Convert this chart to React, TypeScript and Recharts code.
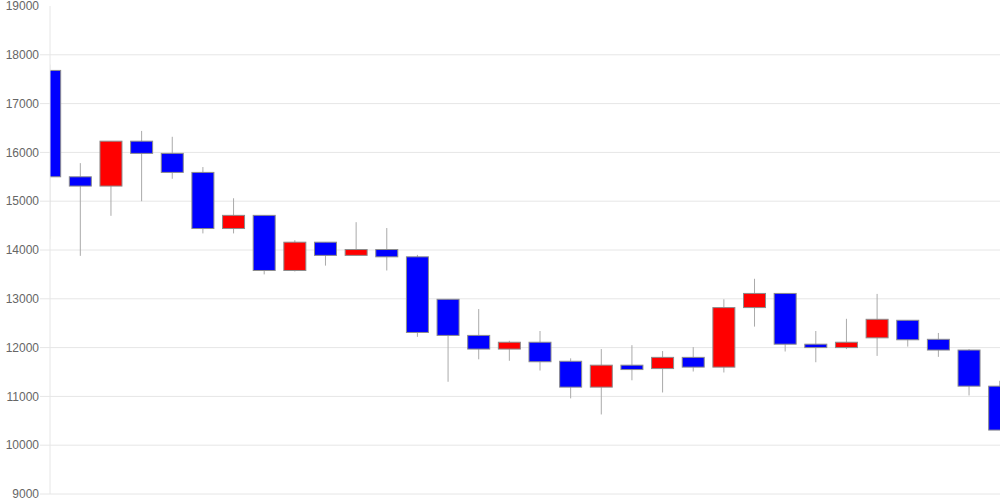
import React from 'react';
import { ComposedChart, Bar, XAxis, YAxis, CartesianGrid } from 'recharts';

// daily OHLC values
const opens = [17680, 15500, 15310, 16230, 15980, 15590, 14440, 14710, 13580, 14160, 13890, 14010, 13860, 12990, 12250, 11970, 12110, 11720, 11190, 11640, 11570, 11800, 11600, 12820, 13110, 12070, 12000, 12200, 12560, 12170, 11950, 11210];
const closes = [15500, 15310, 16230, 15980, 15590, 14440, 14710, 13580, 14160, 13890, 14010, 13860, 12310, 12250, 11970, 12110, 11710, 11190, 11640, 11550, 11800, 11600, 12820, 13110, 12070, 12000, 12110, 12580, 12160, 11950, 11210, 10310];
const highs = [17800, 15780, 16230, 16440, 16320, 15700, 15060, 14710, 14200, 14160, 14570, 14450, 13900, 12990, 12790, 12140, 12340, 11780, 11970, 12050, 11930, 12010, 12990, 13410, 13110, 12340, 12590, 13100, 12560, 12300, 11970, 11320];
const lows = [14220, 13880, 14700, 15000, 15460, 14340, 14340, 13500, 13560, 13680, 13890, 13580, 12220, 11300, 11760, 11730, 11530, 10960, 10630, 11330, 11080, 11510, 11490, 12430, 11920, 11700, 11970, 11830, 12020, 11810, 11020, 10310];

const yTicks = [9000, 10000, 11000, 12000, 13000, 14000, 15000, 16000, 17000, 18000, 19000];
const gridValues = yTicks.filter((v) => v < 19000);

const data = opens.map((open, i) => ({
  idx: i,
  open,
  close: closes[i],
  high: highs[i],
  low: lows[i],
}));

const GRID = '#e6e6e6';

const Candle = (props: any) => {
  const { x, y, width, height, payload } = props;
  const { open, close, high, low } = payload;
  // map a price into the bar's pixel span (bar spans low..high)
  const yOf = (v: number) => y + ((high - v) / (high - low)) * height;
  const cx = x + width / 2;
  const top = yOf(Math.max(open, close));
  const bottom = yOf(Math.min(open, close));
  const fill = close >= open ? '#ff0000' : '#0000ff';
  return (
    <g>
      <line x1={cx} x2={cx} y1={y} y2={y + height} stroke="#aaaaaa" strokeWidth={1} />
      <rect x={x} y={top} width={width} height={Math.max(bottom - top, 1)} fill={fill} stroke="#8c8c8c" strokeWidth={1} />
    </g>
  );
};

const YTick = (props: any) => {
  const { x, y, payload } = props;
  return (
    <g>
      {payload.value < 19000 && <line x1={x + 1} x2={x + 11} y1={y} y2={y} stroke={GRID} />}
      <text x={x} y={y} dy="0.355em" textAnchor="end" fill="#666" fontSize={12} fontFamily="'Liberation Sans', Arial, sans-serif">
        {payload.value}
      </text>
    </g>
  );
};

const App: React.FC = () => {
  return (
    <div style={{ position: 'absolute', left: 0, top: 0, background: '#fff' }}>
      <ComposedChart width={1000} height={500} data={data} margin={{ top: 6, right: 0, bottom: 6, left: 0 }}>
        <CartesianGrid vertical={false} stroke={GRID} horizontalValues={gridValues} />
        <XAxis type="number" dataKey="idx" domain={[0, 31]} hide allowDataOverflow />
        <YAxis
          type="number"
          domain={[9000, 19000]}
          ticks={yTicks}
          width={50}
          tickSize={10}
          tickMargin={1}
          tickLine={false}
          axisLine={{ stroke: GRID }}
          tick={<YTick />}
          interval={0}
        />
        <Bar
          dataKey={(d: any) => [d.low, d.high]}
          barSize={22}
          shape={<Candle />}
          isAnimationActive={false}
        />
      </ComposedChart>
    </div>
  );
};

export default App;
